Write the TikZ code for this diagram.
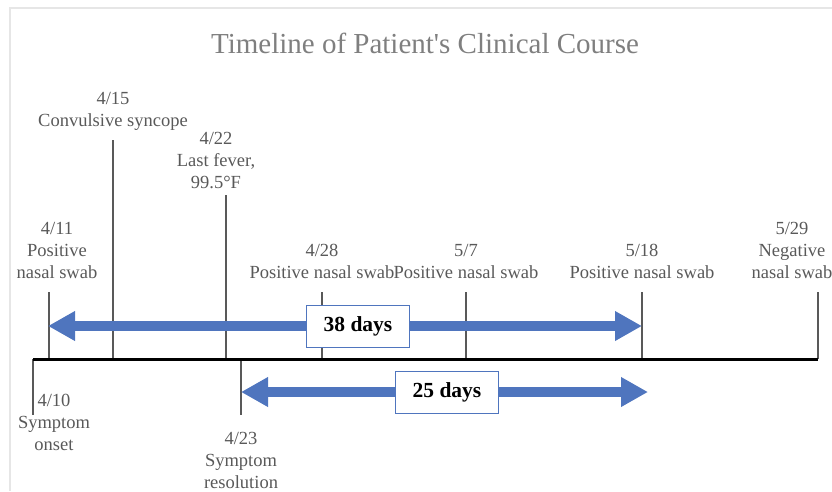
\documentclass[tikz,border=0pt]{standalone}
\usepackage{fontspec}
\setmainfont{Liberation Serif}
\usetikzlibrary{arrows.meta, positioning}
\definecolor{axisgray}{HTML}{595959}
\definecolor{titlegray}{HTML}{7F7F7F}
\definecolor{framegray}{HTML}{E6E6E6}
\definecolor{spanblue}{HTML}{4F75BE}

\begin{document}
\begin{tikzpicture}[
x=1pt, y=-1pt,
node distance=13pt,
every node/.style={font=\fontsize{18.5}{22}\selectfont, text=axisgray, align=center, inner sep=0pt},
tick/.style={draw=axisgray, line width=1.3pt},
span/.style={draw=spanblue, line width=10pt, {Triangle[length=27pt,width=28pt]}-{Triangle[length=27pt,width=28pt]}},
daybox/.style={draw=spanblue, line width=1pt, fill=white, minimum width=103pt, minimum height=42pt, text=black, font=\fontsize{21.5}{26}\selectfont\bfseries}
]
\useasboundingbox (0,0) rectangle (832,491);

% frame and title
\draw[framegray, line width=1.5pt] (10,491) -- (10,8) -- (832,8);
\node (title) [text=titlegray, font=\fontsize{29}{34}\selectfont] at (425,43) {Timeline of Patient\textquotesingle s Clinical Course};

% axis points
\coordinate (onset) at (33,359);
\coordinate (onsetend) at (33,415);
\coordinate (swabA) at (49,359);
\coordinate (swabAtop) at (49,292);
\coordinate (sync) at (113,359);
\coordinate (synctop) at (113,140);
\coordinate (fever) at (226,359);
\coordinate (fevertop) at (226,195);
\coordinate (resol) at (241,359);
\coordinate (resolend) at (241,415);
\coordinate (swabB) at (322,359);
\coordinate (swabBtop) at (322,292);
\coordinate (swabC) at (466,359);
\coordinate (swabCtop) at (466,292);
\coordinate (swabD) at (642,359);
\coordinate (swabDtop) at (642,292);
\coordinate (neg) at (818,359);
\coordinate (negtop) at (818,292);

% ticks
\draw[tick] (onset) -- (onsetend);
\draw[tick] (swabA) -- (swabAtop);
\draw[tick] (sync) -- (synctop);
\draw[tick] (fever) -- (fevertop);
\draw[tick] (resol) -- (resolend);
\draw[tick] (swabB) -- (swabBtop);
\draw[tick] (swabC) -- (swabCtop);
\draw[tick] (swabD) -- (swabDtop);
\draw[tick] (neg) -- (negtop);

% axis
\draw[black, line width=3pt] (onset) -- (neg);

% labels
\node (lonset) [below=-21pt of onsetend, xshift=21pt] {4/10\\Symptom\\onset};
\node (lswabA) [above=of swabAtop, xshift=8pt] {4/11\\Positive\\nasal swab};
\node (lsync) [above=9pt of synctop] {4/15\\Convulsive syncope};
\node (lfever) [above=6pt of fevertop, xshift=-10pt] {4/22\\Last fever,\\99.5°F};
\node (lresol) [below=17pt of resolend] {4/23\\Symptom\\resolution};
\node (lswabB) [above=of swabBtop] {4/28\\Positive nasal swab};
\node (lswabC) [above=of swabCtop] {5/7\\Positive nasal swab};
\node (lswabD) [above=of swabDtop] {5/18\\Positive nasal swab};
\node (lneg) [above=of negtop, xshift=-26pt] {5/29\\Negative\\nasal swab};

% spans
\coordinate (longL) at (48,326);
\coordinate (longR) at (642,326);
\coordinate (shortL) at (241,392);
\coordinate (shortR) at (648,392);
\draw[span] (longL) -- (longR);
\draw[span] (shortL) -- (shortR);
\node (long) [daybox] at (358,326) {38 days};
\node (short) [daybox] at (447,392) {25 days};

\end{tikzpicture}
\end{document}
